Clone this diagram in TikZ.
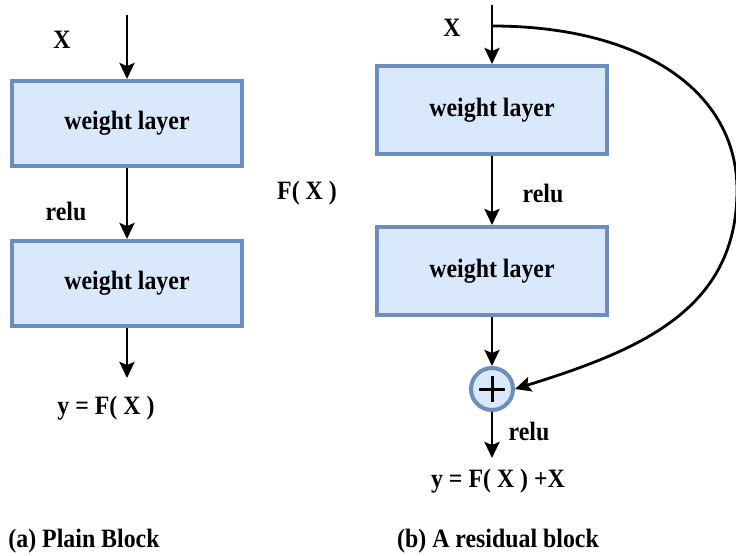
\documentclass[tikz,border=0pt]{standalone}
\usepackage{fontspec}
\setmainfont{Liberation Serif}[BoldFont={Liberation Serif Bold}]
\newfontfamily\labelfont{Liberation Serif Bold}[FakeStretch=0.9]
\usetikzlibrary{arrows.meta}
\definecolor{boxfill}{HTML}{DAE8FC}
\definecolor{boxline}{HTML}{6C8EBF}
\newcommand{\lbl}{\labelfont\fontsize{26.5}{30}\selectfont}
\tikzset{
  layerbox/.style={draw=boxline, fill=boxfill, line width=4pt,
    minimum width=230pt, minimum height=85pt, inner sep=0pt, font=\lbl},
  sumnode/.style={circle, draw=boxline, fill=boxfill, line width=4pt,
    minimum size=42pt, inner sep=0pt},
  lbl/.style={font=\lbl, inner sep=0pt},
  flow/.style={line width=2.8pt, -{Stealth[length=16pt, width=15pt, inset=3pt]}},
}
\begin{document}
\begin{tikzpicture}[x=1pt, y=-1pt]
\useasboundingbox (0,0) rectangle (736,555);

% plain block
\coordinate (inA) at (127,15);
\node[layerbox] (wa1) at (127,123.5) {weight layer};
\node[layerbox] (wa2) at (127,283.5) {weight layer};
\coordinate (outA) at (127,378);
\node[lbl] (xa) at (62,40) {X};
\node[lbl] (ra) at (66,211) {relu};
\node[lbl] (ya) at (106,408) {y = F( X )};
\node[lbl] (ca) at (84,541) {(a) Plain Block};
\draw[flow] (inA) -- (wa1.north);
\draw[flow] (wa1.south) -- (wa2.north);
\draw[flow] (wa2.south) -- (outA);

\node[lbl] (fx) at (307,193) {F( X )};

% residual block
\coordinate (inB) at (492,5);
\coordinate (split) at (492,26);
\node[layerbox, minimum height=88pt] (wb1) at (492,110) {weight layer};
\node[layerbox, minimum height=88pt] (wb2) at (492,271) {weight layer};
\node[sumnode] (plus) at (492,389) {};
\draw[line width=3pt] (plus.center) ++(-13,0) -- ++(26,0);
\draw[line width=3pt] (plus.center) ++(0,-13) -- ++(0,26);
\coordinate (outB) at (492,458);
\coordinate (bulge) at (737,190);
\node[lbl] (xb) at (452,28) {X};
\node[lbl] (rb1) at (543,193) {relu};
\node[lbl] (rb2) at (529,431) {relu};
\node[lbl] (yb) at (498,481) {y = F( X ) +X};
\node[lbl] (cb) at (498,541) {(b) A residual block};
\draw[flow] (inB) -- (wb1.north);
\draw[flow] (wb1.south) -- (wb2.north);
\draw[flow] (wb2.south) -- (plus.north);
\draw[flow] (plus.south) -- (outB);
\draw[flow] (split) .. controls (640,26) and (737,90) .. (bulge)
  .. controls (737,310) and (640,350) .. (plus.east);
\end{tikzpicture}
\end{document}
